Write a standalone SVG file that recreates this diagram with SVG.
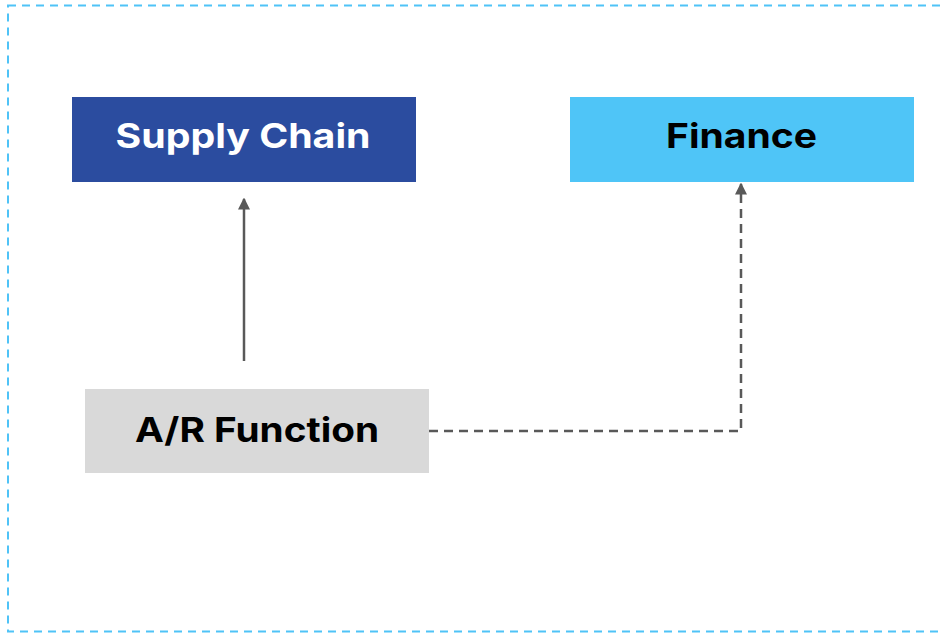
<svg xmlns="http://www.w3.org/2000/svg" width="942" height="633" viewBox="0 0 942 633">
<style>
.lbl{font-family:Inter,"Open Sans","DejaVu Sans",sans-serif;font-weight:700;font-size:34px;text-anchor:middle}
.conn{stroke:#595959;stroke-width:2.5;fill:none}
</style>
<defs>
<marker id="ah2" markerWidth="12" markerHeight="16" refX="14" refY="8" orient="auto" markerUnits="userSpaceOnUse" viewBox="0 0 16 16">
<path d="M0,0 L16,8 L0,16 Z" fill="#595959"/>
</marker>
</defs>
<rect x="8" y="5.5" width="950" height="626" fill="#ffffff" stroke="#4FC3F7" stroke-width="2" stroke-dasharray="8,6"/>
<g id="supply-chain">
<rect x="72" y="97" width="344" height="85" fill="#2B4C9F"/>
<text class="lbl" x="243" y="148" fill="#ffffff" textLength="255" lengthAdjust="spacingAndGlyphs">Supply Chain</text>
</g>
<g id="finance">
<rect x="570" y="97" width="344" height="85" fill="#4FC5F7"/>
<text class="lbl" x="741.5" y="148" fill="#000000" textLength="151" lengthAdjust="spacingAndGlyphs">Finance</text>
</g>
<g id="ar-function">
<rect x="85" y="389" width="344" height="84" fill="#D9D9D9"/>
<text class="lbl" x="257" y="442" fill="#000000" textLength="244" lengthAdjust="spacingAndGlyphs">A/R Function</text>
</g>
<g id="connectors">
<path class="conn" d="M244,361 L244,199" marker-end="url(#ah2)"/>
<path class="conn" d="M429,431 L741,431 L741,184" stroke-dasharray="9,6" marker-end="url(#ah2)"/>
</g>
</svg>
